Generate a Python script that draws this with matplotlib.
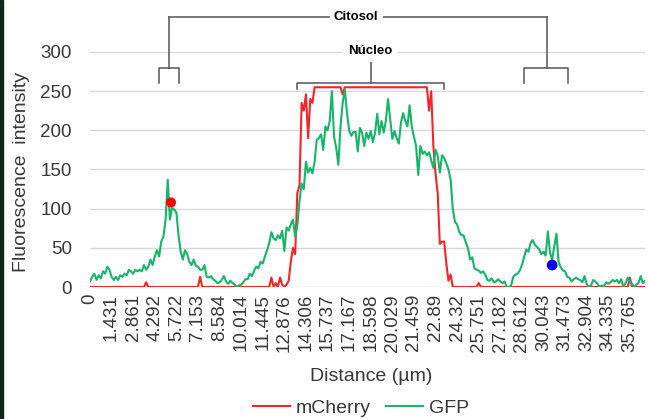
import numpy as np
import matplotlib.pyplot as plt
from matplotlib.patches import Rectangle

plt.rcParams['font.family'] = ['Liberation Sans', 'DejaVu Sans']

# Line-scan profile, one sample every ~0.143 um
gfp = [
    7, 13, 17, 9, 15, 11, 20, 17, 26, 22,
    13, 9, 13, 9, 15, 13, 17, 15, 22, 20,
    17, 22, 20, 22, 20, 28, 22, 26, 35, 28,
    39, 47, 39, 58, 64, 86, 137, 86, 101, 99,
    95, 66, 45, 35, 47, 42, 32, 28, 35, 27,
    26, 22, 22, 28, 13, 12, 14, 10, 8, 5,
    6, 9, 14, 7, 4, 8, 5, 3, 0, 2,
    3, 6, 10, 10, 17, 14, 21, 26, 24, 32,
    30, 39, 47, 56, 70, 62, 60, 66, 62, 72,
    46, 76, 72, 80, 86, 64, 78, 110, 132, 125,
    160, 146, 152, 145, 160, 188, 190, 195, 175, 205,
    200, 212, 250, 192, 178, 156, 205, 235, 252, 222,
    200, 193, 198, 198, 173, 203, 197, 180, 197, 189,
    199, 185, 197, 221, 195, 212, 197, 212, 240, 215,
    189, 199, 190, 183, 210, 222, 212, 205, 232, 205,
    192, 180, 143, 180, 170, 173, 168, 172, 162, 152,
    175, 168, 146, 168, 165, 158, 150, 137, 100, 83,
    80, 70, 66, 66, 57, 50, 35, 38, 24, 22,
    21, 18, 20, 16, 9, 8, 11, 6, 7, 10,
    7, 5, 7, 0, 0, 2, 13, 16, 17, 21,
    28, 38, 48, 45, 56, 60, 54, 51, 48, 42,
    45, 40, 71, 44, 35, 52, 68, 32, 25, 21,
    20, 13, 12, 7, 10, 12, 10, 9, 6, 14,
    4, 0, 2, 9, 7, 4, 0, 2, 1, 6,
    4, 6, 9, 7, 9, 5, 10, 0, 5, 12,
    8, 4, 0, 3, 5, 14, 5, 8,
]

mcherry = [
    0, 0, 0, 0, 0, 0, 0, 0, 0, 0,
    0, 0, 0, 0, 0, 0, 0, 0, 0, 0,
    0, 0, 0, 0, 0, 0, 6, 0, 0, 0,
    0, 0, 0, 0, 0, 0, 0, 0, 0, 0,
    0, 0, 0, 0, 0, 0, 0, 0, 0, 0,
    0, 13, 0, 0, 0, 0, 0, 0, 0, 0,
    0, 0, 0, 0, 0, 0, 0, 0, 0, 0,
    0, 0, 0, 0, 0, 0, 0, 0, 0, 0,
    0, 0, 0, 0, 12, 0, 5, 0, 12, 3,
    0, 3, 8, 33, 50, 42, 120, 130, 235, 225,
    246, 190, 240, 235, 255, 255, 255, 255, 255, 255,
    255, 255, 255, 255, 255, 255, 255, 246, 255, 255,
    255, 255, 255, 255, 255, 255, 255, 255, 255, 255,
    255, 255, 255, 255, 255, 255, 255, 255, 255, 255,
    255, 255, 255, 255, 255, 255, 255, 255, 255, 255,
    255, 255, 255, 255, 255, 255, 255, 225, 250, 180,
    145, 120, 55, 58, 58, 30, 8, 16, 0, 0,
    0, 0, 0, 0, 0, 0, 0, 0, 0, 0,
    5, 0, 0, 0, 0, 0, 0, 0, 0, 0,
    0, 0, 0, 0, 0, 0, 0, 0, 0, 0,
    0, 0, 0, 0, 0, 0, 0, 0, 0, 0,
    0, 0, 0, 0, 0, 0, 0, 0, 0, 0,
    0, 0, 0, 0, 0, 0, 0, 0, 0, 0,
    0, 0, 0, 0, 0, 0, 0, 0, 0, 0,
    0, 0, 0, 0, 0, 0, 0, 0, 0, 0,
    12, 0, 0, 0, 0, 0, 0, 0,
]

# every 10th category gets a label
tick_labels = ['0', '1.431', '2.861', '4.292', '5.722', '7.153', '8.584',
               '10.014', '11.445', '12.876', '14.306', '15.737', '17.167',
               '18.598', '20.029', '21.459', '22.89', '24.32', '25.751',
               '27.182', '28.612', '30.043', '31.473', '32.904', '34.335',
               '35.765']

# the two marked points (sample index, intensity)
dot_idx = [37.5, 214]
dot_val = [108, 28]
dot_colors = ['#ff0000', '#0000ee']

RED = '#f0262b'
GREEN = '#17b56a'
TXT = '#383838'

x = np.arange(len(gfp))

fig = plt.figure(figsize=(6.49, 4.19), dpi=100)
ax = fig.add_axes([90 / 649, 1 - 287 / 419, 555 / 649, 235 / 419])

l1, = ax.plot(x, mcherry, color=RED, lw=1.5, label='mCherry', zorder=3)
l2, = ax.plot(x, gfp, color=GREEN, lw=1.5, label='GFP', zorder=4)
ax.scatter(dot_idx, dot_val, s=[52, 60], c=dot_colors, zorder=5, linewidths=0)

ax.set_xlim(0, len(gfp) - 1)
ax.set_ylim(0, 300)
ax.set_yticks(range(0, 301, 50))
ax.set_xticks(x[::10])
ax.set_xticklabels(tick_labels, rotation=90)
ax.tick_params(axis='y', length=0, pad=13, labelsize=13.5, colors=TXT)
ax.tick_params(axis='x', length=0, pad=5, labelsize=13.5, colors=TXT)
ax.grid(axis='y', color='#d9d9d9', lw=1)
ax.set_axisbelow(True)
for s in ax.spines.values():
    s.set_visible(False)

ax.set_xlabel('Distance (µm)', fontsize=14, color=TXT)
ax.xaxis.set_label_coords(0.506, -0.345)
ax.set_ylabel('Fluorescence  intensity', fontsize=14, color=TXT)
ax.yaxis.set_label_coords(-0.108, 0.49)

# brackets for the cell compartments
bk = dict(color='#555555', lw=1.1, clip_on=False, zorder=6)
ax.plot([36.7, 211.4], [344.7, 344.7], **bk)
ax.plot([36.7, 36.7], [344.7, 279.6], **bk)
ax.plot([32.1, 32.1, 41.3, 41.3], [260.8, 279.6, 279.6, 260.8], **bk)
ax.plot([211.4, 211.4], [344.7, 279.6], **bk)
ax.plot([201.1, 201.1, 221.2, 221.2], [260.8, 279.6, 279.6, 260.8], **bk)
ax.text(123.3, 344.7, 'Citosol', ha='center', va='center', fontsize=9.5,
        fontweight='bold', color='black', zorder=7,
        bbox=dict(fc='white', ec='none', pad=3))

ax.plot([95.7, 95.7, 164, 164], [252.4, 260.8, 260.8, 252.4], **bk)
ax.plot([130, 130], [260.8, 290.7], **bk)
ax.text(129.6, 301.7, 'Núcleo', ha='center', va='center', fontsize=9.5,
        fontweight='bold', color='black', zorder=7,
        bbox=dict(fc='white', ec='none', pad=4))

fig.legend([l1, l2], ['mCherry', 'GFP'], loc='center',
           bbox_to_anchor=(361 / 649, 1 - 408 / 419), ncol=2, frameon=False,
           fontsize=14, handlelength=1.9, handletextpad=0.3,
           columnspacing=0.8, borderaxespad=0, labelcolor=TXT)

# dark border strip on the left of the screenshot
fig.patches.append(Rectangle((0, 0), 3 / 649, 1, transform=fig.transFigure,
                             color='#14261a', zorder=10))

fig.savefig('out.png', dpi=100)
